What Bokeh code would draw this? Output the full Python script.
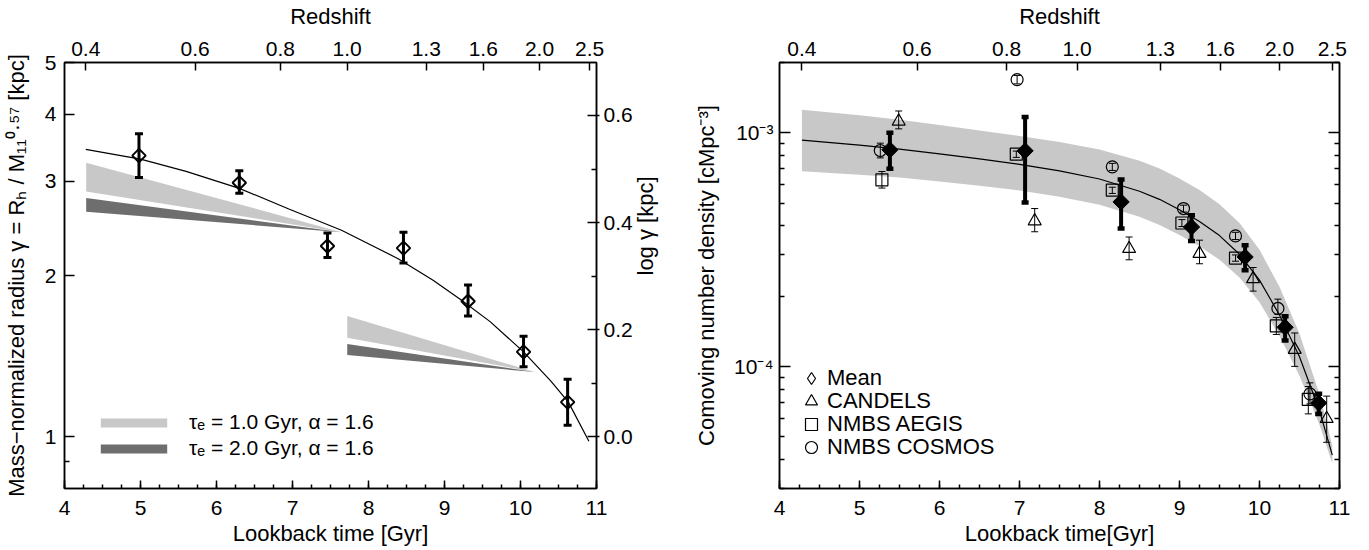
import numpy as np
from bokeh.plotting import figure
from bokeh.models import (Range1d, LinearAxis, LogAxis, FixedTicker, SingleIntervalTicker,
                          Legend, LegendItem)
from bokeh.layouts import row
from bokeh.embed import file_html
from bokeh.resources import INLINE

FONT = "Liberation Sans"
LIGHT = "#c8c8c8"
DARK = "#6e6e6e"
TICK_FS = "21px"
LABEL_FS = "22px"

# ---------------- shared: redshift axis ----------------
z_labels = ["0.4", "0.6", "0.8", "1.0", "1.3", "1.6", "2.0", "2.5"]
z_lookback = [4.28, 5.72, 6.84, 7.72, 8.76, 9.51, 10.25, 10.91]

# ---------------- left panel data ----------------
gam_t = [4.98, 6.30, 7.46, 8.46, 9.31, 10.04, 10.62]
gam = [3.35, 2.98, 2.27, 2.25, 1.79, 1.44, 1.16]
gam_hi = [3.68, 3.14, 2.40, 2.41, 1.92, 1.54, 1.28]
gam_lo = [3.05, 2.85, 2.16, 2.11, 1.68, 1.35, 1.05]

fit_gam_t = [4.28, 5.0, 5.6, 6.3, 6.96, 7.645, 8.39, 8.85, 9.22, 9.6, 10.04, 10.4, 10.63, 10.9]
fit_gam = [3.44, 3.30, 3.13, 2.91, 2.66, 2.43, 2.15, 1.96, 1.80, 1.64, 1.44, 1.27, 1.16, 0.98]

tau1_t_a = [4.285, 7.645, 4.285]
tau1_g_a = [3.25, 2.41, 2.87]
tau2_t_a = [4.285, 7.645, 4.285]
tau2_g_a = [2.79, 2.41, 2.63]
tau1_t_b = [7.72, 10.19, 7.72]
tau1_g_b = [1.68, 1.32, 1.53]
tau2_t_b = [7.72, 10.19, 7.72]
tau2_g_b = [1.49, 1.32, 1.42]

gam_ticks = [1, 2, 3, 4, 5]
gam_tick_labels = ["1", "2", "3", "4", "5"]
gam_minor = [0.9]
loggam_ticks = [0.0, 0.2, 0.4, 0.6]
loggam_labels = ["0.0", "0.2", "0.4", "0.6"]
loggam_minor = [0.1, 0.3, 0.5]

# ---------------- right panel data ----------------
mean_t = [5.38, 7.07, 8.27, 9.15, 9.82, 10.32, 10.74]
mean_n = [8.46e-4, 8.37e-4, 5.06e-4, 3.95e-4, 2.94e-4, 1.47e-4, 6.97e-5]
mean_hi = [1.0e-3, 1.17e-3, 6.31e-4, 4.44e-4, 3.30e-4, 1.64e-4, 7.63e-5]
mean_lo = [7.01e-4, 5.03e-4, 3.89e-4, 3.44e-4, 2.58e-4, 1.29e-4, 6.26e-5]

cand_t = [5.49, 7.19, 8.37, 9.25, 9.92, 10.44, 10.84]
cand_n = [1.12e-3, 4.19e-4, 3.19e-4, 3.04e-4, 2.37e-4, 1.18e-4, 5.97e-5]
cand_hi = [1.24e-3, 4.74e-4, 3.58e-4, 3.47e-4, 2.65e-4, 1.39e-4, 7.46e-5]
cand_lo = [1.04e-3, 3.77e-4, 2.86e-4, 2.75e-4, 2.10e-4, 1.00e-4, 4.73e-5]

aeg_t = [5.28, 6.96, 8.16, 9.03, 9.70, 10.21, 10.61]
aeg_n = [6.29e-4, 8.10e-4, 5.68e-4, 4.11e-4, 2.91e-4, 1.49e-4, 7.22e-5]
aeg_hi = [6.83e-4, 8.35e-4, 5.85e-4, 4.25e-4, 3.00e-4, 1.62e-4, 8.20e-5]
aeg_lo = [5.80e-4, 7.85e-4, 5.50e-4, 3.97e-4, 2.82e-4, 1.37e-4, 6.26e-5]

cos_t = [5.26, 6.97, 8.16, 9.05, 9.70, 10.23, 10.63]
cos_n = [8.40e-4, 1.69e-3, 7.15e-4, 4.74e-4, 3.62e-4, 1.77e-4, 7.63e-5]
cos_hi = [9.03e-4, 1.76e-3, 7.40e-4, 4.90e-4, 3.75e-4, 1.94e-4, 8.50e-5]
cos_lo = [7.81e-4, 1.62e-3, 6.90e-4, 4.58e-4, 3.49e-4, 1.67e-4, 6.90e-5]

fit_n_t = [4.28, 5.0, 5.5, 6.0, 6.5, 7.0, 7.5, 8.0, 8.5, 8.75, 9.0, 9.25, 9.5, 9.75, 10.0,
           10.25, 10.5, 10.75, 10.91]
fit_n = [9.31e-4, 8.85e-4, 8.51e-4, 8.13e-4, 7.73e-4, 7.33e-4, 6.87e-4, 6.34e-4, 5.62e-4,
         5.19e-4, 4.68e-4, 4.17e-4, 3.63e-4, 3.02e-4, 2.34e-4, 1.66e-4, 1.10e-4, 6.46e-5,
         4.17e-5]
fit_n_hi = [1.256e-3, 1.189e-3, 1.138e-3, 1.081e-3, 1.023e-3, 9.70e-4, 9.14e-4, 8.49e-4,
            7.59e-4, 7.03e-4, 6.37e-4, 5.69e-4, 4.95e-4, 4.11e-4, 3.16e-4, 2.19e-4, 1.38e-4,
            7.59e-5, 4.57e-5]
fit_n_lo = [6.85e-4, 6.62e-4, 6.43e-4, 6.19e-4, 5.94e-4, 5.66e-4, 5.33e-4, 4.92e-4, 4.37e-4,
            4.03e-4, 3.65e-4, 3.27e-4, 2.86e-4, 2.40e-4, 1.88e-4, 1.35e-4, 9.12e-5, 5.62e-5,
            3.85e-5]

n_ticks = [1e-4, 1e-3]
n_tick_labels = ["10⁻⁴", "10⁻³"]
n_minor = [m * 10.0 ** e for e in (-5, -4, -3) for m in range(2, 10)]

legend_labels_left = ["τₑ = 1.0 Gyr, α = 1.6", "τₑ = 2.0 Gyr, α = 1.6"]
legend_labels_right = ["Mean", "CANDELS", "NMBS AEGIS", "NMBS COSMOS"]


def style_axis(ax):
    ax.major_label_text_font = FONT
    ax.major_label_text_font_size = TICK_FS
    ax.major_label_text_color = "black"
    ax.axis_label_text_font = FONT
    ax.axis_label_text_font_size = LABEL_FS
    ax.axis_label_text_font_style = "normal"
    ax.axis_label_text_color = "black"
    ax.axis_line_color = "black"
    ax.axis_line_width = 1.5
    ax.major_tick_line_color = "black"
    ax.major_tick_line_width = 1.5
    ax.minor_tick_line_color = "black"
    ax.minor_tick_line_width = 1.5
    ax.major_tick_out = 0
    ax.minor_tick_out = 0


def base_fig(fw, yr, mbl, mbr, xlabel):
    p = figure(frame_width=fw, frame_height=426, x_range=Range1d(4, 11), y_range=yr,
               y_axis_type="log", toolbar_location=None, output_backend="svg",
               min_border_left=mbl, min_border_right=mbr, min_border_top=62, min_border_bottom=62)
    p.xgrid.visible = False
    p.ygrid.visible = False
    p.outline_line_color = "black"
    p.outline_line_width = 1.5
    p.background_fill_color = "white"
    p.border_fill_color = "white"
    xb = p.below[0]
    style_axis(xb)
    xb.ticker = SingleIntervalTicker(interval=1, num_minor_ticks=4)
    xb.major_tick_in = 8
    xb.minor_tick_in = 4
    xb.major_label_standoff = 12
    xb.axis_label_standoff = 3
    xb.axis_label = xlabel
    top = LinearAxis(ticker=FixedTicker(ticks=z_lookback, minor_ticks=[]),
                     major_label_overrides=dict(zip(z_lookback, z_labels)),
                     axis_label="Redshift")
    style_axis(top)
    top.major_tick_in = 8
    top.minor_tick_in = 0
    top.major_label_standoff = 7
    top.axis_label_standoff = 10
    p.add_layout(top, "above")
    return p


# ================= LEFT PANEL =================
p1 = base_fig(532, Range1d(0.8, 5), 63, 95, "Lookback time [Gyr]")
yl = p1.left[0]
style_axis(yl)
yl.ticker = FixedTicker(ticks=gam_ticks, minor_ticks=gam_minor)
yl.major_label_overrides = dict(zip(gam_ticks, gam_tick_labels))
yl.major_tick_in = 10
yl.minor_tick_in = 5
yl.major_label_standoff = 8
yl.axis_label_standoff = 13
yl.axis_label = "Mass−normalized radius γ = Rₕ / M₁₁⁰·⁵⁷ [kpc]"

lg_major = [10 ** v for v in loggam_ticks]
yr_ax = LogAxis(ticker=FixedTicker(ticks=lg_major, minor_ticks=[10 ** v for v in loggam_minor]),
                major_label_overrides=dict(zip(lg_major, loggam_labels)),
                axis_label="log γ [kpc]")
style_axis(yr_ax)
yr_ax.major_tick_in = 9
yr_ax.major_tick_out = 3
yr_ax.minor_tick_in = 5
yr_ax.major_label_standoff = 4
yr_ax.axis_label_standoff = 10
yr_ax.axis_label_orientation = np.pi / 2
p1.add_layout(yr_ax, "right")

r_l1 = p1.patch(tau1_t_a, tau1_g_a, fill_color=LIGHT, line_color=None)
r_d1 = p1.patch(tau2_t_a, tau2_g_a, fill_color=DARK, line_color=None)
p1.patch(tau1_t_b, tau1_g_b, fill_color=LIGHT, line_color=None)
p1.patch(tau2_t_b, tau2_g_b, fill_color=DARK, line_color=None)

p1.line(fit_gam_t, fit_gam, line_color="black", line_width=1.2)
p1.segment(x0=gam_t, y0=gam_lo, x1=gam_t, y1=gam_hi, line_color="black", line_width=3)
p1.scatter(gam_t, gam_hi, marker="dash", size=8, line_width=3, line_color="black")
p1.scatter(gam_t, gam_lo, marker="dash", size=8, line_width=3, line_color="black")
p1.scatter(gam_t, gam, marker="square", angle=np.pi / 4, size=9.5, fill_color=None,
           line_color="black", line_width=2)

leg1 = Legend(items=[LegendItem(label=legend_labels_left[0], renderers=[r_l1]),
                     LegendItem(label=legend_labels_left[1], renderers=[r_d1])],
              location=(28, 28), glyph_width=83, glyph_height=11, label_standoff=14,
              spacing=2, padding=0, margin=0, border_line_color=None,
              background_fill_alpha=0, label_text_font=FONT, label_text_font_size="21px",
              label_text_color="black")
p1.add_layout(leg1)

# ================= RIGHT PANEL =================
p2 = base_fig(560, Range1d(3e-5, 2e-3), 84, 35, "Lookback time[Gyr]")
yl2 = p2.left[0]
style_axis(yl2)
yl2.ticker = FixedTicker(ticks=n_ticks, minor_ticks=n_minor)
yl2.major_label_overrides = dict(zip(n_ticks, n_tick_labels))
yl2.major_tick_in = 11
yl2.minor_tick_in = 5
yl2.major_label_standoff = 6
yl2.axis_label_standoff = 12
yl2.axis_label = "Comoving number density [cMpc⁻³]"

yr2 = LogAxis(ticker=FixedTicker(ticks=n_ticks, minor_ticks=n_minor),
              major_label_overrides=dict(zip(n_ticks, ["", ""])))
style_axis(yr2)
yr2.major_tick_in = 11
yr2.minor_tick_in = 5
p2.add_layout(yr2, "right")

p2.varea(x=fit_n_t, y1=fit_n_lo, y2=fit_n_hi, fill_color=LIGHT)
p2.line(fit_n_t, fit_n, line_color="black", line_width=1.2)


def open_series(t, n, lo, hi, marker, size):
    p2.segment(x0=t, y0=lo, x1=t, y1=hi, line_color="black", line_width=1)
    p2.scatter(t, hi, marker="dash", size=7, line_width=1, line_color="black")
    p2.scatter(t, lo, marker="dash", size=7, line_width=1, line_color="black")
    return p2.scatter(t, n, marker=marker, size=size, fill_color=None, line_color="black",
                      line_width=1.2)


r_cand = open_series(cand_t, cand_n, cand_lo, cand_hi, "triangle", 13)
r_aeg = open_series(aeg_t, aeg_n, aeg_lo, aeg_hi, "square", 12)
r_cos = open_series(cos_t, cos_n, cos_lo, cos_hi, "circle", 12)

p2.segment(x0=mean_t, y0=mean_lo, x1=mean_t, y1=mean_hi, line_color="black", line_width=4)
p2.scatter(mean_t, mean_hi, marker="dash", size=7, line_width=4.5, line_color="black")
p2.scatter(mean_t, mean_lo, marker="dash", size=7, line_width=4.5, line_color="black")
p2.scatter(mean_t, mean_n, marker="square", angle=np.pi / 4, size=11.5, fill_color="black",
           line_color="black")
# outline-only diamonds (hidden under the filled ones) used for the legend symbol
r_mean = p2.scatter(mean_t, mean_n, marker="diamond", size=11, fill_color=None,
                    line_color="black", line_width=1.2)

right_items = [(legend_labels_right[0], r_mean), (legend_labels_right[1], r_cand),
               (legend_labels_right[2], r_aeg), (legend_labels_right[3], r_cos)]
for k, (lab, rend) in enumerate(right_items):
    lg = Legend(items=[LegendItem(label=lab, renderers=[rend])],
                location=(17, 26 + 23 * (3 - k)), glyph_width=30, glyph_height=30,
                label_standoff=1, padding=0, margin=0, border_line_color=None,
                background_fill_alpha=0, label_text_font=FONT, label_text_font_size="22px",
                label_text_color="black")
    p2.add_layout(lg)

layout = row(p1, p2)
open("out.html", "w").write(file_html(layout, INLINE))
